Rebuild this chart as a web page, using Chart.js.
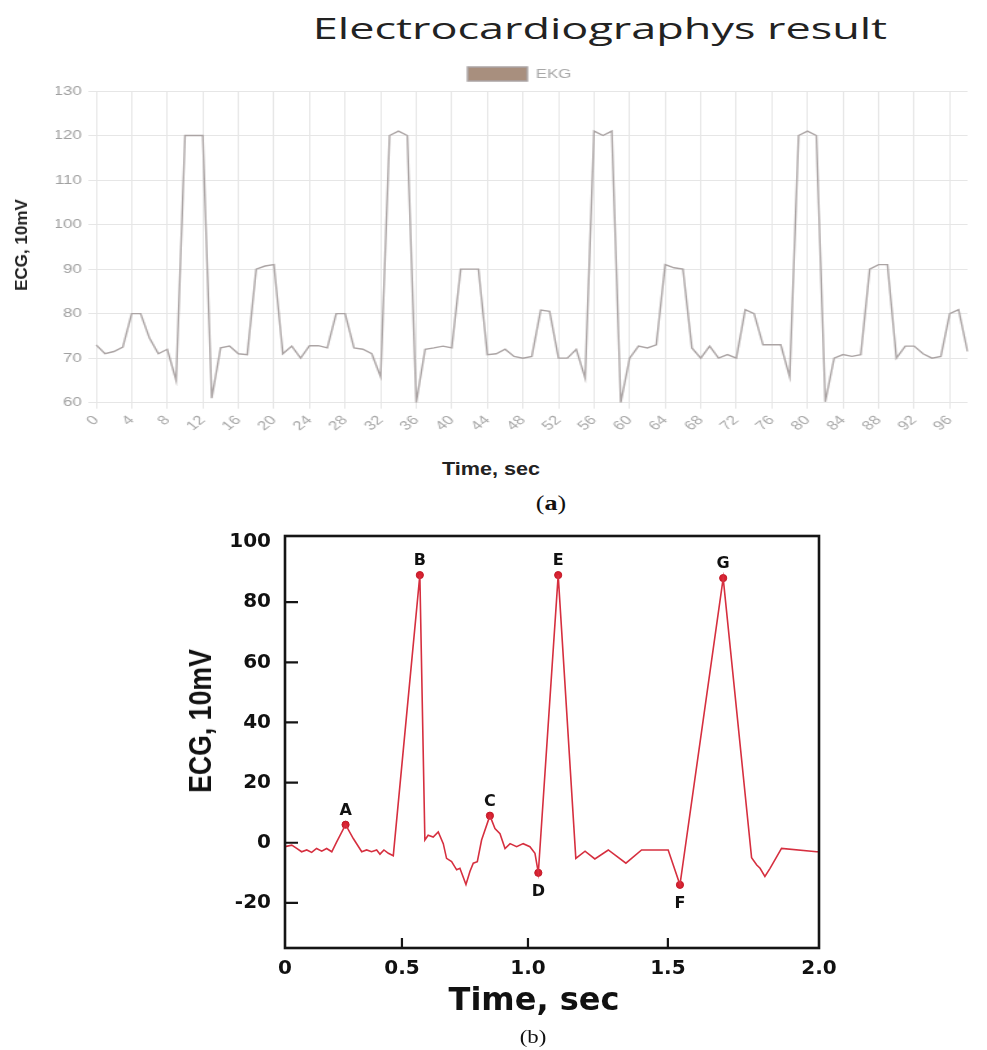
<!DOCTYPE html>
<html lang="en">
<head>
<meta charset="utf-8">
<title>Electrocardiographys result</title>
<script src="https://cdn.jsdelivr.net/npm/chart.js@4.4.1/dist/chart.umd.min.js"></script>
<style>
  html, body { margin: 0; padding: 0; background: #fff; }
  body { position: relative; width: 987px; height: 1050px; overflow: hidden; }
  .txt { position: absolute; white-space: nowrap; line-height: 1; transform-origin: 50% 50%; }
  #ekgWrap { position: absolute; left: 0; top: 55px; width: 760px; height: 390px;
             transform-origin: 0 0; transform: scaleX(1.2987); }
  #ecgWrap { position: absolute; left: 0; top: 510px; width: 987px; height: 540px; }
</style>
</head>
<body>

<div class="txt" style="left:600px; top:28px; font-family:'Open Sans',sans-serif; font-size:30px; color:#222;
     transform:translate(-50%,-50%) scaleX(1.5);">Electrocardiographys result</div>

<div id="ekgWrap"><canvas id="ekgChart" width="760" height="390"></canvas></div>

<div class="txt" style="left:22px; top:245px; font:bold 17px 'Liberation Sans',Arial,sans-serif; color:#222;
     transform:translate(-50%,-50%) rotate(-90deg);">ECG, 10mV</div>
<div class="txt" style="left:491px; top:469px; font:bold 18px 'Liberation Sans',Arial,sans-serif; color:#222;
     transform:translate(-50%,-50%) scaleX(1.2);">Time, sec</div>
<div class="txt" style="left:551px; top:503px; font:20px 'Liberation Serif','Times New Roman',serif; color:#111;
     transform:translate(-50%,-50%) scaleX(1.3);">(<b>a</b>)</div>

<div id="ecgWrap"><canvas id="ecgChart" width="987" height="540"></canvas></div>

<div class="txt" style="left:201px; top:721px; font:bold 31px 'Liberation Sans',Arial,sans-serif; color:#111;
     transform:translate(-50%,-50%) rotate(-90deg) scaleX(0.86);">ECG, 10mV</div>
<div class="txt" style="left:534px; top:999px; font:bold 32px 'DejaVu Sans',sans-serif; color:#111;
     transform:translate(-50%,-50%);">Time, sec</div>
<div class="txt" style="left:533px; top:1037px; font:19px 'Liberation Serif','Times New Roman',serif; color:#111;
     transform:translate(-50%,-50%) scaleX(1.2);">(b)</div>

<script>
// ---------- (a) EKG recording, one sample per second ----------
const TIME_LABELS = [
  0, 1, 2, 3, 4, 5, 6, 7, 8, 9,
  10, 11, 12, 13, 14, 15, 16, 17, 18, 19,
  20, 21, 22, 23, 24, 25, 26, 27, 28, 29,
  30, 31, 32, 33, 34, 35, 36, 37, 38, 39,
  40, 41, 42, 43, 44, 45, 46, 47, 48, 49,
  50, 51, 52, 53, 54, 55, 56, 57, 58, 59,
  60, 61, 62, 63, 64, 65, 66, 67, 68, 69,
  70, 71, 72, 73, 74, 75, 76, 77, 78, 79,
  80, 81, 82, 83, 84, 85, 86, 87, 88, 89,
  90, 91, 92, 93, 94, 95, 96, 97, 98
];
const EKG_VALUES = [
  73, 71, 71.5, 72.5, 80, 80, 74.5, 71, 72, 65,
  120, 120, 120, 61, 72.3, 72.7, 71, 70.8, 90, 90.7,
  91, 71, 72.7, 70, 72.8, 72.8, 72.3, 80, 80, 72.3,
  72, 71, 65.8, 120, 121, 120, 60, 72, 72.3, 72.7,
  72.3, 90, 90, 90, 70.8, 71, 72, 70.4, 70, 70.4,
  80.8, 80.5, 70, 70, 72, 65.5, 121, 120, 121, 60,
  70, 72.7, 72.3, 73, 91, 90.3, 90, 72.3, 70, 72.7,
  70, 70.8, 70, 80.9, 80, 73, 73, 73, 65.8, 120,
  121, 120, 60.2, 70, 70.8, 70.4, 70.8, 90, 91, 91,
  70, 72.7, 72.7, 71, 70, 70.4, 80, 80.9, 71.5
];
const EKG_TICKS = [60, 70, 80, 90, 100, 110, 120, 130];

// ---------- (b) two-second ECG trace with labelled waves ----------
const ECG_T = [
  0.000, 0.029, 0.050, 0.071, 0.093, 0.114, 0.135, 0.157, 0.178, 0.200,
  0.221, 0.259, 0.292, 0.328, 0.349, 0.370, 0.392, 0.406, 0.423, 0.442,
  0.463, 0.571, 0.591, 0.604, 0.624, 0.644, 0.664, 0.677, 0.697, 0.717,
  0.730, 0.754, 0.770, 0.783, 0.799, 0.816, 0.849, 0.869, 0.889, 0.909,
  0.929, 0.955, 0.981, 1.007, 1.025, 1.037, 1.108, 1.171, 1.204, 1.239,
  1.287, 1.350, 1.406, 1.501, 1.540, 1.683, 1.777, 1.794, 1.805, 1.821,
  1.838, 1.876, 1.992, 2.000
];
const ECG_V = [
  -1.3, -0.8, -1.9, -3.0, -2.4, -3.2, -1.9, -2.8, -1.9, -3.0,
  0.3, 6.0, 1.4, -3.0, -2.4, -3.0, -2.4, -3.8, -2.4, -3.5,
  -4.3, 89.0, 0.9, 2.5, 1.9, 3.6, -0.3, -5.2, -6.3, -9.0,
  -8.5, -13.9, -9.5, -6.8, -6.3, 0.9, 9.0, 4.7, 3.0, -1.9,
  -0.3, -1.3, -0.3, -1.3, -3.5, -10.0, 89.0, -5.2, -2.8, -5.4,
  -2.4, -6.8, -2.4, -2.4, -14.0, 88.0, -5.0, -7.4, -8.5, -11.2,
  -8.5, -1.9, -3.0, -3.0
];
const MARK_NAMES = ['A', 'B', 'C', 'D', 'E', 'F', 'G'];
const MARK_INDEX = [11, 21, 36, 45, 46, 54, 55];
const TIME_TICKS = [0, 0.5, 1.0, 1.5, 2.0];
const ECG_TICKS = [-20, 0, 20, 40, 60, 80, 100];

Chart.defaults.font.family = "'Liberation Sans', Arial, sans-serif";

// The time axis of panel (b) is printed with unevenly spaced ticks;
// this scale maps values piecewise-linearly between those tick stations.
const WARP_VALUES = [0, 0.5, 1.0, 1.5, 2.0];
const WARP_FRACTIONS = [0, 0.219, 0.455, 0.717, 1];
function piecewise(v, from, to) {
  let k = 0;
  while (k < from.length - 2 && v > from[k + 1]) k++;
  const f = (v - from[k]) / (from[k + 1] - from[k]);
  return to[k] + f * (to[k + 1] - to[k]);
}
class WarpedLinearScale extends Chart.LinearScale {
  static id = 'warpedLinear';
  static defaults = Chart.LinearScale.defaults;
  getPixelForValue(value) {
    if (value === null || value === undefined || isNaN(value)) return NaN;
    return this.getPixelForDecimal(piecewise(value, WARP_VALUES, WARP_FRACTIONS));
  }
  getValueForPixel(pixel) {
    return piecewise(this.getDecimalForPixel(pixel), WARP_FRACTIONS, WARP_VALUES);
  }
}
Chart.register(WarpedLinearScale);

// ---------- panel (a) ----------
const GRID_A = '#e6e6e6';
new Chart(document.getElementById('ekgChart'), {
  type: 'line',
  data: {
    labels: TIME_LABELS,
    datasets: [{
      label: 'EKG',
      data: EKG_VALUES,
      borderColor: '#aba4a4',
      backgroundColor: '#a88f7e',
      borderWidth: 1.4,
      pointRadius: 0,
      tension: 0,
      fill: false
    }]
  },
  options: {
    responsive: false,
    animation: false,
    layout: { padding: { left: 43, right: 3, top: 1, bottom: 0 } },
    plugins: {
      legend: {
        labels: { boxWidth: 46, boxHeight: 14, padding: 11, color: '#a8a8a8', font: { size: 13 } }
      },
      tooltip: { enabled: false }
    },
    scales: {
      x: {
        ticks: {
          autoSkip: false, minRotation: 45, maxRotation: 45,
          color: '#a8a8a8', font: { size: 13 }, padding: 4,
          callback: (v, i) => (TIME_LABELS[i] % 4 === 0 ? String(TIME_LABELS[i]) : '')
        },
        grid: {
          color: ctx => (TIME_LABELS[ctx.index] % 4 === 0 ? GRID_A : 'rgba(0,0,0,0)'),
          tickLength: 6
        },
        border: { color: GRID_A },
        afterFit: s => { s.height = 42.3; }
      },
      y: {
        min: 60, max: 130,
        afterBuildTicks: s => { s.ticks = EKG_TICKS.map(v => ({ value: v })); },
        ticks: { color: '#a0a0a0', font: { size: 13 }, padding: 5, callback: v => String(v) },
        grid: { color: GRID_A, tickLength: 6 },
        border: { color: GRID_A },
        afterFit: s => { s.width = 31; }
      }
    }
  }
});

// ---------- panel (b) ----------
const frameAndMarks = {
  id: 'frameAndMarks',
  afterDatasetsDraw(chart) {
    const { ctx, chartArea: a, scales: { x, y } } = chart;
    ctx.save();
    ctx.strokeStyle = '#151515';
    ctx.lineWidth = 2.6;
    ctx.strokeRect(a.left, a.top, a.right - a.left, a.bottom - a.top);
    // inward tick marks
    ctx.lineWidth = 2.2;
    ctx.beginPath();
    TIME_TICKS.forEach(v => {
      const px = x.getPixelForValue(v);
      if (px - a.left < 8 || a.right - px < 8) return;
      ctx.moveTo(px, a.bottom);
      ctx.lineTo(px, a.bottom - 10);
    });
    ECG_TICKS.forEach(v => {
      const py = y.getPixelForValue(v);
      if (py - a.top < 8 || a.bottom - py < 8) return;
      ctx.moveTo(a.left, py);
      ctx.lineTo(a.left + 13, py);
    });
    ctx.stroke();
    // wave letters
    ctx.font = "bold 16px 'DejaVu Sans', sans-serif";
    ctx.fillStyle = '#111';
    ctx.textAlign = 'center';
    ctx.textBaseline = 'middle';
    MARK_INDEX.forEach((idx, k) => {
      const px = x.getPixelForValue(ECG_T[idx]);
      const py = y.getPixelForValue(ECG_V[idx]);
      const below = ECG_V[idx] < 0;
      ctx.fillText(MARK_NAMES[k], px, below ? py + 19 : py - 14);
    });
    ctx.restore();
  }
};

const tickFontB = { family: "'DejaVu Sans', sans-serif", weight: 'bold', size: 20 };
new Chart(document.getElementById('ecgChart'), {
  type: 'line',
  data: {
    datasets: [{
      label: 'ECG',
      data: ECG_T.map((t, i) => ({ x: t, y: ECG_V[i] })),
      borderColor: '#d62f3f',
      borderWidth: 1.6,
      pointRadius: 0,
      tension: 0,
      fill: false
    }, {
      label: 'Waves',
      data: MARK_INDEX.map(i => ({ x: ECG_T[i], y: ECG_V[i] })),
      showLine: false,
      pointRadius: 3.6,
      pointBackgroundColor: '#d8202f',
      pointBorderColor: '#c01a28',
      pointBorderWidth: 1
    }]
  },
  options: {
    responsive: false,
    animation: false,
    layout: { padding: { left: 0, right: 168, top: 20, bottom: 0 } },
    plugins: { legend: { display: false }, tooltip: { enabled: false } },
    scales: {
      x: {
        type: 'warpedLinear',
        min: 0, max: 2,
        afterBuildTicks: s => { s.ticks = TIME_TICKS.map(v => ({ value: v })); },
        ticks: {
          color: '#111', font: tickFontB, padding: 9, maxRotation: 0, autoSkip: false,
          callback: v => (v === 0 ? '0' : Number(v).toFixed(1))
        },
        grid: { display: false, drawTicks: false },
        border: { display: false },
        afterFit: s => { s.height = 102; }
      },
      y: {
        min: -35, max: 102,
        afterBuildTicks: s => { s.ticks = ECG_TICKS.map(v => ({ value: v })); },
        ticks: { color: '#111', font: tickFontB, padding: 14, callback: v => String(v) },
        grid: { display: false, drawTicks: false },
        border: { display: false },
        afterFit: s => { s.width = 285; }
      }
    }
  },
  plugins: [frameAndMarks]
});
</script>
</body>
</html>
